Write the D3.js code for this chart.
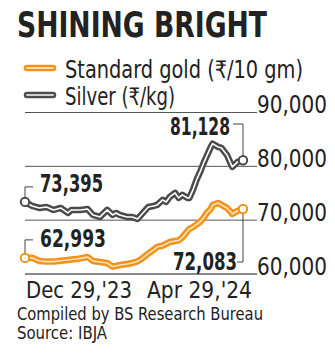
<!DOCTYPE html>
<html>
<head>
<meta charset="utf-8">
<script src="https://cdn.jsdelivr.net/npm/d3@7"></script>
<style>
html,body{margin:0;padding:0;background:#fff;}
svg{display:block;}
text{font-family:"DejaVu Sans Condensed","DejaVu Sans",sans-serif;fill:#222;}
</style>
</head>
<body>
<svg id="chart" width="335" height="358"></svg>
<script>
const dates = ["2023-12-29","2024-01-02","2024-01-06","2024-01-10","2024-01-14","2024-01-18","2024-01-22","2024-01-24","2024-01-27","2024-01-29",
"2024-02-02","2024-02-05","2024-02-09","2024-02-13","2024-02-16","2024-02-18","2024-02-20","2024-02-24","2024-02-27","2024-03-01",
"2024-03-04","2024-03-07","2024-03-10","2024-03-12","2024-03-15","2024-03-17","2024-03-19","2024-03-22","2024-03-24","2024-03-26",
"2024-03-29","2024-03-30","2024-04-01","2024-04-03","2024-04-05","2024-04-07","2024-04-09","2024-04-11","2024-04-12","2024-04-15",
"2024-04-17","2024-04-20","2024-04-22","2024-04-23","2024-04-26","2024-04-29"];
const silver = [73395,72640,72270,72455,71900,72270,71340,71900,71900,71900,
72080,70970,70600,71900,70970,71340,70970,70600,70600,70225,
71340,72455,72640,72830,73760,73385,74310,75060,74130,74690,
74130,74130,75615,77475,78960,80635,82120,83610,84200,83610,
83420,82120,80635,79890,80820,81128];
const gold = [62993,63000,62420,62300,62300,62450,62600,62700,62790,62900,
63160,62420,62230,62045,61400,61500,61670,61860,62045,62350,
63000,63800,64500,65050,65250,65600,65950,66130,66250,66800,
68000,68370,68700,69200,69670,70450,71450,72080,72800,73200,
72830,72270,71600,71150,71750,72083];
const yTicks = [60000,70000,80000,90000];
const xLabels = ["Dec 29,'23","Apr 29,'24"];
const seriesNames = ["Standard gold (₹/10 gm)","Silver (₹/kg)"];
const title = "SHINING BRIGHT";
const notes = ["Compiled by BS Research Bureau","Source: IBJA"];

const parse = d3.timeParse("%Y-%m-%d");
const dd = dates.map(parse);
const svg = d3.select("#chart");

const x = d3.scaleTime().domain([dd[0], dd[dd.length-1]]).range([25, 243]);
const y = d3.scaleLinear().domain([60000, 90000]).range([274, 112.5]);
const fmt = d3.format(",");

// title
svg.append("text").attr("x",17).attr("y",37).attr("font-size",36).attr("font-weight","bold")
  .attr("textLength",250).attr("lengthAdjust","spacingAndGlyphs").attr("fill","#1e1e1e").text(title);

// legend
const legendColors = [["#f0921c","#ffd9a0"],["#4d4d4d","#cfcfcf"]];
seriesNames.forEach((n,i)=>{
  const ly = 68 + i*27;
  svg.append("line").attr("x1",27).attr("x2",53).attr("y1",ly).attr("y2",ly)
    .attr("stroke",legendColors[i][0]).attr("stroke-width",6.5).attr("stroke-linecap","round");
  svg.append("line").attr("x1",27).attr("x2",53).attr("y1",ly).attr("y2",ly)
    .attr("stroke",legendColors[i][1]).attr("stroke-width",1.8).attr("stroke-linecap","round");
  svg.append("text").attr("x",65).attr("y",ly+10).attr("font-size",24)
    .attr("textLength", i===0?238:110).attr("lengthAdjust","spacingAndGlyphs").text(n);
});

// grid
const yAxis = d3.axisRight(y).tickValues(yTicks).tickSize(0).tickFormat(fmt);
const gy = svg.append("g").attr("transform","translate(257,0)").call(yAxis);
gy.select(".domain").remove();
gy.selectAll("text").attr("x",0).attr("dy",0).attr("font-size",24)
  .attr("textLength",70).attr("lengthAdjust","spacingAndGlyphs")
  .style("font-family","'DejaVu Sans Condensed','DejaVu Sans',sans-serif").attr("fill","#222");
svg.append("g").selectAll("line").data(yTicks).join("line")
  .attr("x1",25).attr("x2",257).attr("y1",d=>y(d)).attr("y2",d=>y(d))
  .attr("stroke",d=>d===60000?"#8a8a8a":"#555").attr("stroke-width",d=>d===60000?2:1);

// x labels
svg.append("text").attr("x",26).attr("y",298).attr("font-size",23)
  .attr("textLength",106).attr("lengthAdjust","spacingAndGlyphs").text(xLabels[0]);
svg.append("text").attr("x",252).attr("y",298).attr("font-size",23).attr("text-anchor","end")
  .attr("textLength",105).attr("lengthAdjust","spacingAndGlyphs").text(xLabels[1]);

// notes
svg.append("text").attr("x",17).attr("y",320).attr("font-size",18.5)
  .attr("textLength",246).attr("lengthAdjust","spacingAndGlyphs").text(notes[0]);
svg.append("text").attr("x",17).attr("y",339).attr("font-size",18.5)
  .attr("textLength",90).attr("lengthAdjust","spacingAndGlyphs").text(notes[1]);

// lines
const line = vals => d3.line().x((d,i)=>x(dd[i])).y(d=>y(d)).curve(d3.curveLinear)(vals);
function drawSeries(vals, outer, inner){
  svg.append("path").attr("d",line(vals)).attr("fill","none").attr("stroke",outer)
    .attr("stroke-width",6.5).attr("stroke-linejoin","round").attr("stroke-linecap","round");
  svg.append("path").attr("d",line(vals)).attr("fill","none").attr("stroke",inner)
    .attr("stroke-width",1.6).attr("stroke-linejoin","round");
}

// leaders
function leader(pts){
  svg.append("path").attr("d",d3.line()(pts)).attr("fill","none").attr("stroke","#444").attr("stroke-width",1);
}
const n = dd.length-1;
leader([[x(dd[0])+8, y(silver[0])-15],[x(dd[0]), y(silver[0])-15],[x(dd[0]), y(silver[0])]]);
leader([[x(dd[0])+8, y(gold[0])-18],[x(dd[0]), y(gold[0])-18],[x(dd[0]), y(gold[0])]]);
leader([[x(dd[n])-10, 124],[x(dd[n]), 124],[x(dd[n]), y(silver[n])]]);
leader([[x(dd[n])-6, 262],[x(dd[n]), 262],[x(dd[n]), y(gold[n])]]);

drawSeries(silver, "#4a4a4a", "#ffffff");
drawSeries(gold, "#f0921c", "#ffe2b8");

// end circles
[[silver,"#4a4a4a"],[gold,"#f0921c"]].forEach(([vals,c])=>{
  [0,n].forEach(i=>{
    svg.append("circle").attr("cx",x(dd[i])).attr("cy",y(vals[i])).attr("r",4.2)
      .attr("fill","#fff").attr("stroke",c).attr("stroke-width",2);
  });
});

// annotations
function ann(txt, xx, yy, w){
  svg.append("text").attr("x",xx).attr("y",yy).attr("font-size",25).attr("font-weight","bold")
    .attr("textLength",w).attr("lengthAdjust","spacingAndGlyphs").attr("fill","#1e1e1e").text(txt);
}
ann(fmt(silver[0]), 40, 192, 63);
ann(fmt(gold[0]), 40, 247, 66);
ann(fmt(silver[n]), 170, 135, 60);
ann(fmt(gold[n]), 173, 270, 64);
</script>
</body>
</html>
